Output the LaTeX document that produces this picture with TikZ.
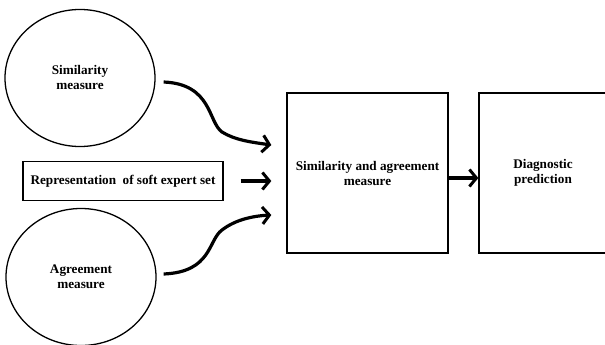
\documentclass[tikz,border=0pt]{standalone}
\usepackage{fontspec}
\setmainfont{Liberation Serif}
\usetikzlibrary{shapes.geometric,arrows.meta,calc}
\begin{document}
\begin{tikzpicture}[x=1pt,y=-1pt,
  lbl/.style={font=\bfseries\fontsize{13.2}{15}\selectfont,align=center},
  oval/.style={ellipse,draw,line width=1.3pt,minimum width=150pt,minimum height=137pt,inner sep=0pt},
  boxnode/.style={draw,line width=1.3pt,inner sep=0pt},
  flow/.style={line width=3.2pt,-{Straight Barb[length=7pt,width=17pt,line width=3pt]}}]
\useasboundingbox (0,0) rectangle (605,345);
\node[oval,lbl] (sim) at (80,78) {Similarity\\measure};
\node[oval,lbl] (agr) at (81,277) {Agreement\\measure};
\node[boxnode,lbl,minimum width=200pt,minimum height=39pt] (rep) at (123,181) {Representation\ \ of soft expert set};
\node[boxnode,lbl,minimum width=161pt,minimum height=160pt] (mid) at (367.5,173) {Similarity and agreement\\measure};
\node[boxnode,minimum width=160pt,minimum height=160pt] (diag) at (559,173) {};
\node[lbl] (diagtxt) at (543,173) {Diagnostic\\prediction};
\coordinate (s1) at ($(sim.east)+(8,4)$);
\coordinate (a1) at ($(agr.east)+(7,-3)$);
\coordinate (m1) at ($(mid.west)+(-15,-28)$);
\coordinate (m2) at ($(mid.west)+(-15,8)$);
\coordinate (m3) at ($(mid.west)+(-15,42)$);
\draw[flow] (s1) .. controls (212,84) and (208,122) .. (222,132) .. controls (235,140) and (250,142) .. (m1);
\draw[flow] (a1) .. controls (212,272) and (208,240) .. (222,230) .. controls (235,220) and (252,216) .. (m3);
\draw[flow] ($(rep.east)+(17,0)$) -- (m2);
\draw[flow] (mid.east |- 0,178) -- (diag.west |- 0,178);
\end{tikzpicture}
\end{document}
